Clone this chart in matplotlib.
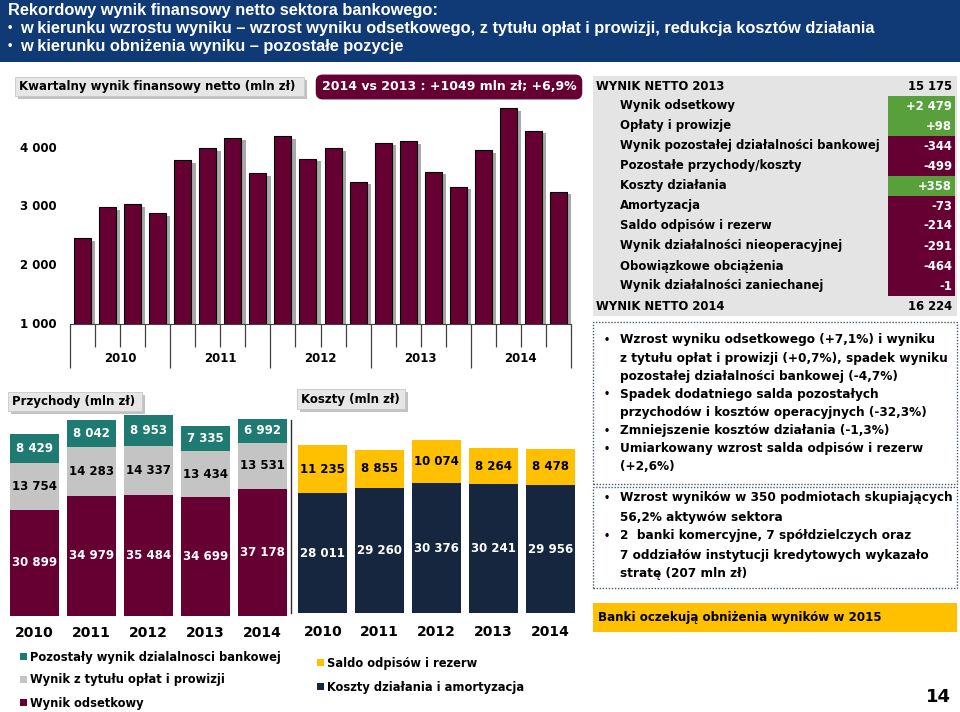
import matplotlib
matplotlib.use("Agg")
import matplotlib.pyplot as plt
from matplotlib.patches import Rectangle
from matplotlib.lines import Line2D

# ---------------- data ----------------
quarter_years = ['2010', '2011', '2012', '2013', '2014']
quarterly_net = [2470, 2990, 3045, 2895, 3795, 4005, 4180, 3580, 4210, 3820,
                 4005, 3430, 4095, 4125, 3600, 3345, 3970, 4690, 4300, 3260]
top_yticks = [1000, 2000, 3000, 4000]

years = ['2010', '2011', '2012', '2013', '2014']
rev_interest = [30899, 34979, 35484, 34699, 37178]
rev_fees = [13754, 14283, 14337, 13434, 13531]
rev_other = [8429, 8042, 8953, 7335, 6992]
rev_legend = ['Pozostały wynik dzialalnosci bankowej',
              'Wynik z tytułu opłat i prowizji',
              'Wynik odsetkowy']

cost_opex = [28011, 29260, 30376, 30241, 29956]
cost_prov = [11235, 8855, 10074, 8264, 8478]
cost_legend = ['Saldo odpisów i rezerw', 'Koszty działania i amortyzacja']

table_labels = ['WYNIK NETTO 2013', 'Wynik odsetkowy', 'Opłaty i prowizje',
                'Wynik pozostałej działalności bankowej', 'Pozostałe przychody/koszty',
                'Koszty działania', 'Amortyzacja', 'Saldo odpisów i rezerw',
                'Wynik działalności nieoperacyjnej', 'Obowiązkowe obciążenia',
                'Wynik działalności zaniechanej', 'WYNIK NETTO 2014']
table_values = [15175, 2479, 98, -344, -499, 358, -73, -214, -291, -464, -1, 16224]

header_title = 'Rekordowy wynik finansowy netto sektora bankowego:'
header_bullets = ['w kierunku wzrostu wyniku – wzrost wyniku odsetkowego, z tytułu opłat i prowizji, redukcja kosztów działania',
                  'w kierunku obniżenia wyniku – pozostałe pozycje']
box1_lines = [(True, 'Wzrost wyniku odsetkowego (+7,1%) i wyniku'),
              (False, 'z tytułu opłat i prowizji (+0,7%), spadek wyniku'),
              (False, 'pozostałej działalności bankowej (-4,7%)'),
              (True, 'Spadek dodatniego salda pozostałych'),
              (False, 'przychodów i kosztów operacyjnych (-32,3%)'),
              (True, 'Zmniejszenie kosztów działania (-1,3%)'),
              (True, 'Umiarkowany wzrost salda odpisów i rezerw'),
              (False, '(+2,6%)')]
box2_lines = [(True, 'Wzrost wyników w 350 podmiotach skupiających'),
              (False, '56,2% aktywów sektora'),
              (True, '2  banki komercyjne, 7 spółdzielczych oraz'),
              (False, '7 oddziałów instytucji kredytowych wykazało'),
              (False, 'stratę (207 mln zł)')]

# ---------------- styles ----------------
MAROON = '#660033'
TEAL = '#1F7A72'
LGRAY = '#C4C4C4'
NAVY = '#16263F'
YELLOW = '#FFC000'
GREEN = '#57A03B'
HEADER = '#0F3A76'
FONT = 'DejaVu Sans'

W, H = 960, 712
fig = plt.figure(figsize=(W / 100, H / 100), dpi=100)
fig.patch.set_facecolor('white')


def fx(x):
    return x / W


def fy(y):
    return 1 - y / H


def rect_px(x0, y0, x1, y1):
    return [x0 / W, 1 - y1 / H, (x1 - x0) / W, (y1 - y0) / H]


def frect(x0, y0, x1, y1, **kw):
    fig.add_artist(Rectangle((fx(x0), fy(y1)), (x1 - x0) / W, (y1 - y0) / H,
                             transform=fig.transFigure, **kw))


def ftext(x, y, s, **kw):
    kw.setdefault('family', FONT)
    kw.setdefault('fontweight', 'bold')
    kw.setdefault('va', 'center')
    fig.text(fx(x), fy(y), s, **kw)


def fmt(v, sign=False):
    return (f"{v:+,}" if sign else f"{v:,}").replace(',', ' ')


def title_box(x0, y0, x1, y1, text, size):
    frect(x0 + 3, y0 + 3, x1 + 3, y1 + 3, fc='#9A9A9A', ec='none', alpha=0.6)
    frect(x0, y0, x1, y1, fc='#E6E6E6', ec='#C8C8C8', lw=0.6)
    ftext(x0 + 4, (y0 + y1) / 2, text, fontsize=size, color='black')


# ---------------- header ----------------
frect(0, 0, W, 62, fc=HEADER, ec='none')
ftext(8, 10, header_title, fontsize=11.8, color='white', family='Liberation Sans')
for i, line in enumerate(header_bullets):
    yy = 28 + i * 18
    ftext(8, yy, '•', fontsize=9, color='white', family='Liberation Sans')
    ftext(20, yy, line, fontsize=11.8, color='white', family='Liberation Sans')

# ---------------- top-left quarterly chart ----------------
ax = fig.add_axes(rect_px(70, 100, 571, 324))
ymin, ymax = 1000, 1000 + 224 / 58.57 * 1000
xs = list(range(len(quarterly_net)))
ax.bar([x + 0.17 for x in xs], [v - 45 for v in quarterly_net], width=0.68,
       color='#6E6E6E', alpha=0.6, zorder=1)
ax.bar(xs, quarterly_net, width=0.68, color=MAROON, edgecolor='black',
       linewidth=0.8, zorder=2)
ax.set_xlim(-0.5, len(xs) - 0.5)
ax.set_ylim(ymin, ymax)
for s in ['left', 'top', 'right']:
    ax.spines[s].set_visible(False)
ax.spines['bottom'].set_color('#404040')
ax.set_yticks([])
major = [-0.5 + 4 * k for k in range(len(quarter_years) + 1)]
minor = [x - 0.5 for x in range(1, len(xs)) if x % 4 != 0]
ax.set_xticks(major)
ax.set_xticks(minor, minor=True)
ax.set_xticklabels([])
ax.tick_params(axis='x', which='major', length=31.7, color='#404040', width=0.9)
ax.tick_params(axis='x', which='minor', length=16.6, color='#404040', width=0.9)
for k, yr in enumerate(quarter_years):
    ax.text(1.5 + 4 * k, -34 / 224, yr, transform=ax.get_xaxis_transform(),
            ha='center', va='center', fontsize=8.5, fontweight='bold', family=FONT)
for t in top_yticks:
    ax.text(-50 / 501, t, fmt(t), transform=ax.get_yaxis_transform(),
            ha='left', va='center', fontsize=8.5, fontweight='bold', family=FONT)

title_box(15, 77, 304, 96, 'Kwartalny wynik finansowy netto (mln zł)', 8.5)

ftext(449, 87, '2014 vs 2013 : +1049 mln zł; +6,9%', fontsize=9, color='white',
      ha='center', bbox=dict(boxstyle='round,pad=0.42,rounding_size=0.5',
                             fc=MAROON, ec=MAROON))

# ---------------- table ----------------
frect(593, 76, 957, 316, fc='#E4E4E4', ec='none')
n = len(table_labels)
for i, (lab, val) in enumerate(zip(table_labels, table_values)):
    yc = 86 + 20 * i
    edge = i == 0 or i == n - 1
    if not edge:
        frect(888, yc - 10, 955, yc + 10, fc=GREEN if val > 0 else MAROON, ec='none')
    ftext(596 if edge else 620, yc, lab, fontsize=8.4, color='black')
    ftext(952, yc, fmt(val, sign=not edge), fontsize=8.4,
          color='black' if edge else 'white', ha='right')

# ---------------- text boxes ----------------
frect(593, 322, 957, 484, fc='none', ec='#4A5A72', lw=1, ls=(0, (1, 1.2)))
frect(593, 487, 957, 588, fc='none', ec='#4A5A72', lw=1, ls=(0, (1, 1.2)))
for i, (b, line) in enumerate(box1_lines):
    yy = 340 + i * 18.1
    if b:
        ftext(604, yy, '•', fontsize=7, color='black')
    ftext(620, yy, line, fontsize=8.7, color='black')
for i, (b, line) in enumerate(box2_lines):
    yy = 498 + i * 19
    if b:
        ftext(604, yy, '•', fontsize=7, color='black')
    ftext(620, yy, line, fontsize=8.7, color='black')

frect(593, 603, 957, 632, fc=YELLOW, ec='none')
ftext(598, 617, 'Banki oczekują obniżenia wyników w 2015', fontsize=8.6, color='black')
ftext(951, 697, '14', fontsize=13, color='black', ha='right')

# ---------------- bottom-left revenue chart ----------------
axr = fig.add_axes(rect_px(6, 405, 291, 615.7))
xi = list(range(len(years)))
b1 = axr.bar(xi, rev_interest, width=0.85, color=MAROON)
b2 = axr.bar(xi, rev_fees, width=0.85, bottom=rev_interest, color=LGRAY)
bot3 = [a + b for a, b in zip(rev_interest, rev_fees)]
b3 = axr.bar(xi, rev_other, width=0.85, bottom=bot3, color=TEAL)
axr.bar_label(b1, labels=[fmt(v) for v in rev_interest], label_type='center',
              color='white', fontsize=8.5, fontweight='bold', family=FONT)
axr.bar_label(b2, labels=[fmt(v) for v in rev_fees], label_type='center',
              color='black', fontsize=8.5, fontweight='bold', family=FONT)
axr.bar_label(b3, labels=[fmt(v) for v in rev_other], label_type='center',
              color='white', fontsize=8.5, fontweight='bold', family=FONT)
axr.set_xlim(-0.5, len(years) - 0.5)
axr.set_ylim(0, 210.7 / 3.415 * 1000)
axr.axis('off')
for i, yr in enumerate(years):
    axr.text(i, -17.5 / 210.7, yr, transform=axr.get_xaxis_transform(),
             ha='center', va='center', fontsize=10, fontweight='bold', family=FONT)

title_box(8, 392, 142, 411, 'Przychody (mln zł)', 8.5)

for i, (lab, col) in enumerate(zip(rev_legend, [TEAL, LGRAY, MAROON])):
    yy = 657 + i * 23
    frect(20, yy - 4, 27, yy + 3, fc=col, ec='none')
    ftext(30, yy, lab, fontsize=8.3, color='black')

# ---------------- bottom-middle cost chart ----------------
axc = fig.add_axes(rect_px(294.4, 405, 578.8, 613.3))
c1 = axc.bar(xi, cost_opex, width=0.86, color=NAVY)
c2 = axc.bar(xi, cost_prov, width=0.86, bottom=cost_opex, color=YELLOW)
axc.bar_label(c1, labels=[fmt(v) for v in cost_opex], label_type='center',
              color='white', fontsize=8.5, fontweight='bold', family=FONT)
axc.bar_label(c2, labels=[fmt(v) for v in cost_prov], label_type='center',
              color='black', fontsize=8.5, fontweight='bold', family=FONT)
axc.set_xlim(-0.5, len(years) - 0.5)
axc.set_ylim(0, 208.3 / 4.285 * 1000)
axc.axis('off')
for i, yr in enumerate(years):
    axc.text(i, -18.4 / 208.3, yr, transform=axc.get_xaxis_transform(),
             ha='center', va='center', fontsize=10, fontweight='bold', family=FONT)

title_box(297, 389, 405, 409, 'Koszty (mln zł)', 8.5)
fig.add_artist(Line2D([fx(291), fx(291)], [fy(420), fy(613)], color='#303030',
                      lw=1, transform=fig.transFigure))

for i, (lab, col) in enumerate(zip(cost_legend, [YELLOW, NAVY])):
    yy = 663 + i * 24
    frect(317, yy - 4, 324, yy + 3, fc=col, ec='none')
    ftext(327, yy, lab, fontsize=8.3, color='black')

fig.savefig('out.png', dpi=100)
